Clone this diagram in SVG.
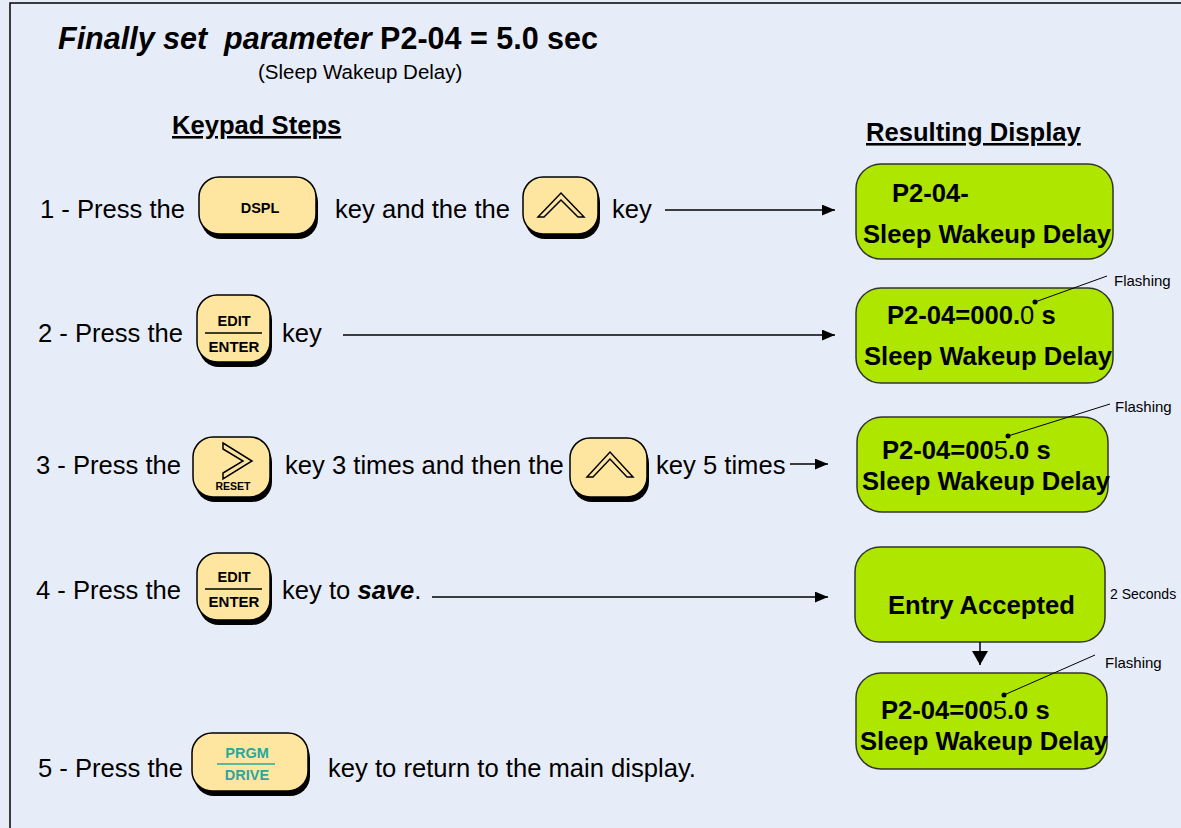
<svg xmlns="http://www.w3.org/2000/svg" width="1181" height="828" viewBox="0 0 1181 828">
<defs>
<style>
text{font-family:"Liberation Sans",Arial,sans-serif;fill:#000}
.t{font-size:25.6px}
.b{font-weight:bold}
.hd{font-size:25.6px;font-weight:bold;text-decoration:underline}
.key{fill:#FFE6A0;stroke:#000;stroke-width:1.5}
.sh{fill:#000}
.lcd{fill:#AEE600;stroke:#333;stroke-width:1.5}
.kl{font-size:14.5px;font-weight:bold}
.pg{font-size:14.5px;font-weight:bold;fill:#2AA7A0}
.cv{fill:none;stroke:#000;stroke-width:1.5;stroke-linejoin:miter}
.fl{font-size:15px}
.conn{stroke:#000;stroke-width:1.5;fill:none}
</style>
<marker id="ah" viewBox="0 0 12 10" refX="12" refY="5" markerWidth="13" markerHeight="11" markerUnits="userSpaceOnUse" orient="auto">
<path d="M0,0 L12,5 L0,10 Z" fill="#000"/>
</marker>
<marker id="ahd" viewBox="0 0 14 16" refX="14" refY="8" markerWidth="14" markerHeight="16" markerUnits="userSpaceOnUse" orient="auto">
<path d="M0,0 L14,8 L0,16 Z" fill="#000"/>
</marker>
</defs>
<rect x="0" y="0" width="1181" height="828" fill="#E7EDF8"/>
<rect x="10" y="3" width="1190" height="840" fill="none" stroke="#000" stroke-width="1.5"/>

<g id="title">
<text x="58" y="49" style="font-size:30.5px;font-weight:bold" xml:space="preserve"><tspan font-style="italic">Finally set  parameter</tspan> P2-04 = 5.0 sec</text>
<text x="258" y="79" style="font-size:20.5px">(Sleep Wakeup Delay)</text>
<text x="172" y="134" class="hd">Keypad Steps</text>
<text x="866" y="141" class="hd">Resulting Display</text>
</g>

<g id="step1">
<text x="40" y="218" class="t">1 - Press the</text>
<text x="335" y="218" class="t">key and the the</text>
<text x="612" y="218" class="t">key</text>
</g>
<g id="key-dspl">
<rect x="201" y="182" width="117" height="57" rx="20" class="sh"/>
<rect x="199" y="177" width="117" height="57" rx="20" class="key"/>
<text x="260" y="213" class="kl" text-anchor="middle">DSPL</text>
</g>
<g id="key-up1">
<rect x="525" y="182" width="75" height="57" rx="20" class="sh"/>
<rect x="523" y="177" width="75" height="57" rx="20" class="key"/>
<path d="M538,217 L561,193 L584,217 L578,217 L561,200 L544,217 Z" class="cv"/>
</g>

<g id="step2">
<text x="38" y="342" class="t">2 - Press the</text>
<text x="282" y="342" class="t">key</text>
</g>
<g id="key-edit1">
<rect x="199" y="300" width="73" height="67" rx="20" class="sh"/>
<rect x="197" y="295" width="73" height="67" rx="20" class="key"/>
<text x="234" y="326" class="kl" text-anchor="middle">EDIT</text>
<line x1="205" y1="333" x2="262" y2="333" stroke="#000" stroke-width="1.5"/>
<text x="234" y="352" class="kl" text-anchor="middle" style="font-size:15px">ENTER</text>
</g>

<g id="step3">
<text x="36" y="474" class="t">3 - Press the</text>
<text x="285" y="474" class="t">key 3 times and then the</text>
<text x="656" y="474" class="t">key 5 times</text>
</g>
<g id="key-reset">
<rect x="195" y="442" width="77" height="60" rx="20" class="sh"/>
<rect x="193" y="437" width="77" height="60" rx="20" class="key"/>
<path d="M223,443 L252,461 L223,479 L223,473 L243,461 L223,449 Z" class="cv"/>
<text x="233" y="490" class="kl" text-anchor="middle" style="font-size:10.5px">RESET</text>
</g>
<g id="key-up2">
<rect x="572" y="443" width="77" height="59" rx="20" class="sh"/>
<rect x="570" y="438" width="77" height="59" rx="20" class="key"/>
<path d="M587,477 L610,452 L633,477 L627,477 L610,459 L593,477 Z" class="cv"/>
</g>

<g id="step4">
<text x="36" y="599" class="t">4 - Press the</text>
<text x="282" y="599" class="t">key to <tspan font-weight="bold" font-style="italic">save</tspan>.</text>
</g>
<g id="key-edit2">
<rect x="199" y="558" width="73" height="67" rx="20" class="sh"/>
<rect x="197" y="553" width="73" height="67" rx="20" class="key"/>
<text x="234" y="582" class="kl" text-anchor="middle">EDIT</text>
<line x1="205" y1="589" x2="262" y2="589" stroke="#000" stroke-width="1.5"/>
<text x="234" y="607" class="kl" text-anchor="middle" style="font-size:15px">ENTER</text>
</g>

<g id="step5">
<text x="38" y="777" class="t">5 - Press the</text>
<text x="328" y="777" class="t">key to return to the main display.</text>
</g>
<g id="key-prgm">
<rect x="194" y="738" width="116" height="58" rx="20" class="sh"/>
<rect x="192" y="733" width="116" height="58" rx="20" class="key"/>
<text x="247" y="758" class="pg" text-anchor="middle">PRGM</text>
<line x1="217" y1="764" x2="275" y2="764" stroke="#2AA7A0" stroke-width="1.5"/>
<text x="247" y="780" class="pg" text-anchor="middle">DRIVE</text>
</g>

<g id="disp1">
<rect x="856" y="164" width="257" height="95" rx="25" class="lcd"/>
<text x="892" y="202" class="t b">P2-04-</text>
<text x="863" y="243" class="t b">Sleep Wakeup Delay</text>
</g>
<g id="disp2">
<rect x="856" y="288" width="257" height="95" rx="25" class="lcd"/>
<text x="887" y="324" class="t b">P2-04=000.<tspan font-weight="normal">0</tspan> s</text>
<text x="864" y="365" class="t b">Sleep Wakeup Delay</text>
<line x1="1035" y1="302" x2="1107" y2="276" stroke="#000" stroke-width="1"/>
<circle cx="1035" cy="302" r="2.5" fill="#000"/>
<text x="1114" y="286" class="fl">Flashing</text>
</g>
<g id="disp3">
<rect x="857" y="417" width="251" height="95" rx="25" class="lcd"/>
<text x="882" y="459" class="t b">P2-04=00<tspan font-weight="normal">5</tspan>.0 s</text>
<text x="862" y="490" class="t b">Sleep Wakeup Delay</text>
<line x1="1008" y1="436" x2="1110" y2="404" stroke="#000" stroke-width="1"/>
<circle cx="1008" cy="436" r="2.5" fill="#000"/>
<text x="1115" y="412" class="fl">Flashing</text>
</g>
<g id="disp4">
<rect x="855" y="547" width="250" height="95" rx="25" class="lcd"/>
<text x="888" y="614" class="t b">Entry Accepted</text>
<text x="1110" y="599" class="fl" style="font-size:14px">2 Seconds</text>
</g>
<g id="disp5">
<rect x="856" y="673" width="251" height="96" rx="25" class="lcd"/>
<text x="881" y="719" class="t b">P2-04=00<tspan font-weight="normal">5</tspan>.0 s</text>
<text x="860" y="750" class="t b">Sleep Wakeup Delay</text>
<line x1="1004" y1="695" x2="1095" y2="655" stroke="#000" stroke-width="1"/>
<circle cx="1004" cy="695" r="2.5" fill="#000"/>
<text x="1105" y="668" class="fl">Flashing</text>
</g>

<g id="connectors">
<line x1="665" y1="210" x2="835" y2="210" class="conn" marker-end="url(#ah)"/>
<line x1="343" y1="335" x2="835" y2="335" class="conn" marker-end="url(#ah)"/>
<line x1="790" y1="464" x2="828" y2="464" class="conn" marker-end="url(#ah)"/>
<line x1="432" y1="597" x2="828" y2="597" class="conn" marker-end="url(#ah)"/>
<line x1="980" y1="642" x2="980" y2="665" class="conn" marker-end="url(#ahd)"/>
</g>
</svg>
